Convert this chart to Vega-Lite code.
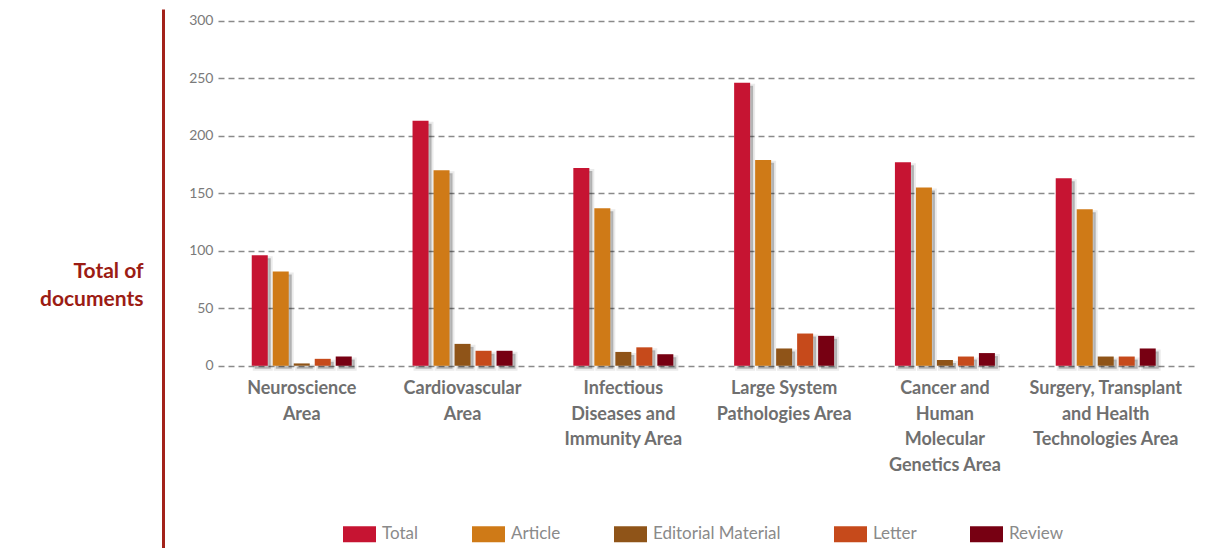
{
  "$schema": "https://vega.github.io/schema/vega-lite/v6.json",
  "width": 977,
  "height": 539,
  "autosize": {"type": "none"},
  "padding": {"left": 218, "top": 9, "right": 16, "bottom": 0},
  "background": "white",
  "config": {"view": {"stroke": null}, "font": "Lato"},
  "data": {
    "values": [
      {"area": "Neuroscience Area", "type": "Total", "count": 96},
      {"area": "Neuroscience Area", "type": "Article", "count": 82},
      {"area": "Neuroscience Area", "type": "Editorial Material", "count": 2},
      {"area": "Neuroscience Area", "type": "Letter", "count": 6},
      {"area": "Neuroscience Area", "type": "Review", "count": 8},
      {"area": "Cardiovascular Area", "type": "Total", "count": 213},
      {"area": "Cardiovascular Area", "type": "Article", "count": 170},
      {"area": "Cardiovascular Area", "type": "Editorial Material", "count": 19},
      {"area": "Cardiovascular Area", "type": "Letter", "count": 13},
      {"area": "Cardiovascular Area", "type": "Review", "count": 13},
      {"area": "Infectious Diseases and Immunity Area", "type": "Total", "count": 172},
      {"area": "Infectious Diseases and Immunity Area", "type": "Article", "count": 137},
      {"area": "Infectious Diseases and Immunity Area", "type": "Editorial Material", "count": 12},
      {"area": "Infectious Diseases and Immunity Area", "type": "Letter", "count": 16},
      {"area": "Infectious Diseases and Immunity Area", "type": "Review", "count": 10},
      {"area": "Large System Pathologies Area", "type": "Total", "count": 246},
      {"area": "Large System Pathologies Area", "type": "Article", "count": 179},
      {"area": "Large System Pathologies Area", "type": "Editorial Material", "count": 15},
      {"area": "Large System Pathologies Area", "type": "Letter", "count": 28},
      {"area": "Large System Pathologies Area", "type": "Review", "count": 26},
      {"area": "Cancer and Human Molecular Genetics Area", "type": "Total", "count": 177},
      {"area": "Cancer and Human Molecular Genetics Area", "type": "Article", "count": 155},
      {"area": "Cancer and Human Molecular Genetics Area", "type": "Editorial Material", "count": 5},
      {"area": "Cancer and Human Molecular Genetics Area", "type": "Letter", "count": 8},
      {"area": "Cancer and Human Molecular Genetics Area", "type": "Review", "count": 11},
      {"area": "Surgery, Transplant and Health Technologies Area", "type": "Total", "count": 163},
      {"area": "Surgery, Transplant and Health Technologies Area", "type": "Article", "count": 136},
      {"area": "Surgery, Transplant and Health Technologies Area", "type": "Editorial Material", "count": 8},
      {"area": "Surgery, Transplant and Health Technologies Area", "type": "Letter", "count": 8},
      {"area": "Surgery, Transplant and Health Technologies Area", "type": "Review", "count": 15}
    ]
  },
  "encoding": {
    "x": {
      "field": "area",
      "type": "nominal",
      "sort": null,
      "scale": {"paddingInner": 0.316, "paddingOuter": 0.196, "align": 0.456},
      "axis": {
        "orient": "bottom",
        "offset": -182.3,
        "title": null,
        "domain": false,
        "ticks": false,
        "labelAngle": 0,
        "labelPadding": 14,
        "labelBaseline": "top",
        "labelFont": "Lato",
        "labelFontSize": 18,
        "labelFontWeight": "bold",
        "labelColor": "#6f6f6f",
        "labelLineHeight": 25.5,
        "labelLimit": 0,
        "labelExpr": "{'Neuroscience Area': ['Neuroscience', 'Area'], 'Cardiovascular Area': ['Cardiovascular', 'Area'], 'Infectious Diseases and Immunity Area': ['Infectious', 'Diseases and', 'Immunity Area'], 'Large System Pathologies Area': ['Large System', 'Pathologies Area'], 'Cancer and Human Molecular Genetics Area': ['Cancer and', 'Human', 'Molecular', 'Genetics Area'], 'Surgery, Transplant and Health Technologies Area': ['Surgery, Transplant', 'and Health', 'Technologies Area']}[datum.value]"
      }
    }
  },
  "layer": [
    {
      "mark": {"type": "bar", "fill": "#000", "fillOpacity": 0.24, "stroke": "#000", "strokeOpacity": 0.08, "strokeWidth": 4},
      "encoding": {
        "xOffset": {
          "field": "type",
          "type": "nominal",
          "sort": ["Total", "Article", "Editorial Material", "Letter", "Review"],
          "scale": {"paddingInner": 0.238, "paddingOuter": 0.238, "align": 0.8}
        },
        "y": {
          "field": "count",
          "type": "quantitative",
          "scale": {"domain": [-155.9, 312.8], "nice": false, "zero": false},
          "axis": null
        }
      }
    },
    {
      "mark": {"type": "bar"},
      "encoding": {
        "xOffset": {
          "field": "type",
          "type": "nominal",
          "sort": ["Total", "Article", "Editorial Material", "Letter", "Review"],
          "scale": {"paddingInner": 0.238, "paddingOuter": 0.238, "align": 0.5}
        },
        "y": {
          "field": "count",
          "type": "quantitative",
          "scale": {"domain": [-158.5, 310.2], "nice": false, "zero": false},
          "axis": {
            "orient": "left",
            "offset": 55,
            "values": [0, 50, 100, 150, 200, 250, 300],
            "domain": true,
            "domainColor": "#a3221a",
            "domainWidth": 3,
            "ticks": false,
            "labelPadding": -50,
            "labelAlign": "right",
            "labelFont": "Lato",
            "labelFontSize": 14,
            "labelColor": "#7a7a7a",
            "grid": true,
            "gridColor": "#8a8a8a",
            "gridDash": [6, 4],
            "gridWidth": 1.3,
            "title": ["Total of", "documents"],
            "titleAngle": 0,
            "titleAlign": "right",
            "titleBaseline": "alphabetic",
            "titleX": -20,
            "titleY": 268,
            "titleFont": "Lato",
            "titleFontSize": 21,
            "titleFontWeight": "bold",
            "titleColor": "#9c1c14",
            "titleLineHeight": 28
          }
        },
        "color": {
          "field": "type",
          "type": "nominal",
          "sort": ["Total", "Article", "Editorial Material", "Letter", "Review"],
          "scale": {
            "domain": ["Total", "Article", "Editorial Material", "Letter", "Review"],
            "range": ["#c61432", "#cf7a17", "#8f5418", "#c64a1b", "#770012"]
          },
          "legend": {
            "title": null,
            "orient": "none",
            "direction": "horizontal",
            "legendX": 125,
            "legendY": 508.5,
            "symbolType": "M-1,-0.485H1V0.485H-1Z",
            "symbolSize": 1089,
            "symbolStrokeWidth": 0,
            "symbolOpacity": 1,
            "labelOffset": 6,
            "columnPadding": 53,
            "labelFont": "Lato",
            "labelFontSize": 17,
            "labelColor": "#8a8a8a"
          }
        }
      }
    }
  ],
  "resolve": {"scale": {"y": "independent", "xOffset": "independent"}, "axis": {"y": "independent"}}
}
